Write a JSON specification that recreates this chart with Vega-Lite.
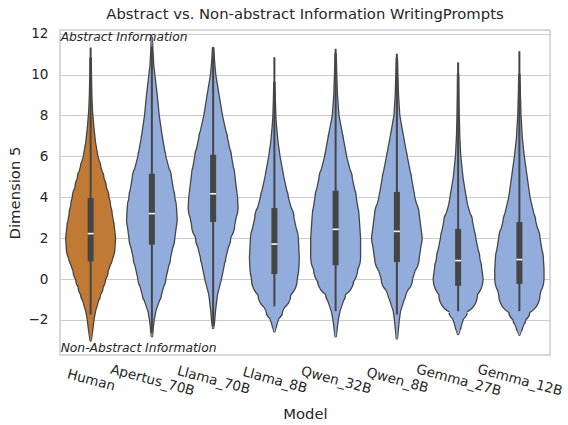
{
  "$schema": "https://vega.github.io/schema/vega-lite/v6.json",
  "width": 490,
  "height": 325,
  "autosize": "none",
  "padding": {"left": 60, "top": 30, "right": 18, "bottom": 70},
  "background": "white",
  "title": {
    "text": "Abstract vs. Non-abstract Information WritingPrompts",
    "font": "DejaVu Sans",
    "fontSize": 14.8,
    "fontWeight": "normal",
    "color": "#262626",
    "offset": 5
  },
  "datasets": {
    "violin": [
      {"Model": "Human", "value": -3.0, "density": 0},
      {"Model": "Human", "value": -2.5, "density": 0.015},
      {"Model": "Human", "value": -2.0, "density": 0.027},
      {"Model": "Human", "value": -1.58, "density": 0.043},
      {"Model": "Human", "value": -1.2, "density": 0.065},
      {"Model": "Human", "value": -0.77, "density": 0.093},
      {"Model": "Human", "value": -0.4, "density": 0.118},
      {"Model": "Human", "value": 0, "density": 0.143},
      {"Model": "Human", "value": 0.43, "density": 0.17},
      {"Model": "Human", "value": 0.86, "density": 0.193},
      {"Model": "Human", "value": 1.2, "density": 0.218},
      {"Model": "Human", "value": 1.52, "density": 0.237},
      {"Model": "Human", "value": 2.0, "density": 0.243},
      {"Model": "Human", "value": 2.5, "density": 0.232},
      {"Model": "Human", "value": 3.15, "density": 0.21},
      {"Model": "Human", "value": 3.6, "density": 0.193},
      {"Model": "Human", "value": 4.0, "density": 0.177},
      {"Model": "Human", "value": 4.5, "density": 0.15},
      {"Model": "Human", "value": 4.94, "density": 0.127},
      {"Model": "Human", "value": 5.5, "density": 0.095},
      {"Model": "Human", "value": 6.0, "density": 0.067},
      {"Model": "Human", "value": 6.7, "density": 0.042},
      {"Model": "Human", "value": 7.39, "density": 0.027},
      {"Model": "Human", "value": 8.2, "density": 0.013},
      {"Model": "Human", "value": 9.0, "density": 0.006},
      {"Model": "Human", "value": 10.0, "density": 0.002},
      {"Model": "Human", "value": 10.8, "density": 0},

      {"Model": "Apertus_70B", "value": -2.8, "density": 0},
      {"Model": "Apertus_70B", "value": -2.3, "density": 0.01},
      {"Model": "Apertus_70B", "value": -2.0, "density": 0.017},
      {"Model": "Apertus_70B", "value": -1.58, "density": 0.033},
      {"Model": "Apertus_70B", "value": -0.77, "density": 0.09},
      {"Model": "Apertus_70B", "value": 0, "density": 0.133},
      {"Model": "Apertus_70B", "value": 1.03, "density": 0.18},
      {"Model": "Apertus_70B", "value": 2.0, "density": 0.223},
      {"Model": "Apertus_70B", "value": 2.9, "density": 0.247},
      {"Model": "Apertus_70B", "value": 3.5, "density": 0.24},
      {"Model": "Apertus_70B", "value": 4.0, "density": 0.223},
      {"Model": "Apertus_70B", "value": 4.94, "density": 0.19},
      {"Model": "Apertus_70B", "value": 6.0, "density": 0.133},
      {"Model": "Apertus_70B", "value": 6.9, "density": 0.1},
      {"Model": "Apertus_70B", "value": 8.0, "density": 0.067},
      {"Model": "Apertus_70B", "value": 9.02, "density": 0.047},
      {"Model": "Apertus_70B", "value": 10.0, "density": 0.023},
      {"Model": "Apertus_70B", "value": 10.5, "density": 0.012},
      {"Model": "Apertus_70B", "value": 11.2, "density": 0.004},
      {"Model": "Apertus_70B", "value": 11.8, "density": 0},

      {"Model": "Llama_70B", "value": -2.4, "density": 0},
      {"Model": "Llama_70B", "value": -2.1, "density": 0.008},
      {"Model": "Llama_70B", "value": -1.58, "density": 0.017},
      {"Model": "Llama_70B", "value": -0.77, "density": 0.037},
      {"Model": "Llama_70B", "value": 0, "density": 0.077},
      {"Model": "Llama_70B", "value": 1.03, "density": 0.12},
      {"Model": "Llama_70B", "value": 2.0, "density": 0.17},
      {"Model": "Llama_70B", "value": 2.66, "density": 0.21},
      {"Model": "Llama_70B", "value": 3.47, "density": 0.243},
      {"Model": "Llama_70B", "value": 4.0, "density": 0.237},
      {"Model": "Llama_70B", "value": 5.1, "density": 0.21},
      {"Model": "Llama_70B", "value": 6.0, "density": 0.177},
      {"Model": "Llama_70B", "value": 6.9, "density": 0.137},
      {"Model": "Llama_70B", "value": 8.0, "density": 0.087},
      {"Model": "Llama_70B", "value": 9.02, "density": 0.053},
      {"Model": "Llama_70B", "value": 10.0, "density": 0.02},
      {"Model": "Llama_70B", "value": 10.65, "density": 0.008},
      {"Model": "Llama_70B", "value": 11.3, "density": 0},

      {"Model": "Llama_8B", "value": -2.56, "density": 0},
      {"Model": "Llama_8B", "value": -2.3, "density": 0.015},
      {"Model": "Llama_8B", "value": -2.0, "density": 0.033},
      {"Model": "Llama_8B", "value": -1.58, "density": 0.077},
      {"Model": "Llama_8B", "value": -0.77, "density": 0.157},
      {"Model": "Llama_8B", "value": 0, "density": 0.223},
      {"Model": "Llama_8B", "value": 0.5, "density": 0.238},
      {"Model": "Llama_8B", "value": 1.03, "density": 0.243},
      {"Model": "Llama_8B", "value": 2.0, "density": 0.233},
      {"Model": "Llama_8B", "value": 2.99, "density": 0.19},
      {"Model": "Llama_8B", "value": 4.0, "density": 0.133},
      {"Model": "Llama_8B", "value": 4.94, "density": 0.09},
      {"Model": "Llama_8B", "value": 6.0, "density": 0.05},
      {"Model": "Llama_8B", "value": 6.7, "density": 0.03},
      {"Model": "Llama_8B", "value": 7.39, "density": 0.017},
      {"Model": "Llama_8B", "value": 7.9, "density": 0.009},
      {"Model": "Llama_8B", "value": 8.8, "density": 0.003},
      {"Model": "Llama_8B", "value": 9.6, "density": 0},

      {"Model": "Qwen_32B", "value": -2.8, "density": 0},
      {"Model": "Qwen_32B", "value": -2.4, "density": 0.01},
      {"Model": "Qwen_32B", "value": -2.0, "density": 0.02},
      {"Model": "Qwen_32B", "value": -1.58, "density": 0.037},
      {"Model": "Qwen_32B", "value": -0.77, "density": 0.093},
      {"Model": "Qwen_32B", "value": 0, "density": 0.177},
      {"Model": "Qwen_32B", "value": 0.5, "density": 0.215},
      {"Model": "Qwen_32B", "value": 1.03, "density": 0.243},
      {"Model": "Qwen_32B", "value": 2.0, "density": 0.243},
      {"Model": "Qwen_32B", "value": 3.15, "density": 0.227},
      {"Model": "Qwen_32B", "value": 4.0, "density": 0.2},
      {"Model": "Qwen_32B", "value": 4.94, "density": 0.16},
      {"Model": "Qwen_32B", "value": 6.0, "density": 0.103},
      {"Model": "Qwen_32B", "value": 6.9, "density": 0.07},
      {"Model": "Qwen_32B", "value": 8.0, "density": 0.027},
      {"Model": "Qwen_32B", "value": 9.0, "density": 0.012},
      {"Model": "Qwen_32B", "value": 10.0, "density": 0.005},
      {"Model": "Qwen_32B", "value": 11.0, "density": 0},

      {"Model": "Qwen_8B", "value": -2.9, "density": 0},
      {"Model": "Qwen_8B", "value": -2.4, "density": 0.01},
      {"Model": "Qwen_8B", "value": -2.0, "density": 0.018},
      {"Model": "Qwen_8B", "value": -1.58, "density": 0.03},
      {"Model": "Qwen_8B", "value": -0.77, "density": 0.083},
      {"Model": "Qwen_8B", "value": 0, "density": 0.15},
      {"Model": "Qwen_8B", "value": 1.03, "density": 0.217},
      {"Model": "Qwen_8B", "value": 2.0, "density": 0.247},
      {"Model": "Qwen_8B", "value": 3.15, "density": 0.217},
      {"Model": "Qwen_8B", "value": 4.0, "density": 0.173},
      {"Model": "Qwen_8B", "value": 4.94, "density": 0.14},
      {"Model": "Qwen_8B", "value": 6.0, "density": 0.097},
      {"Model": "Qwen_8B", "value": 6.9, "density": 0.063},
      {"Model": "Qwen_8B", "value": 8.0, "density": 0.023},
      {"Model": "Qwen_8B", "value": 9.0, "density": 0.01},
      {"Model": "Qwen_8B", "value": 10.0, "density": 0.004},
      {"Model": "Qwen_8B", "value": 10.8, "density": 0},

      {"Model": "Gemma_27B", "value": -2.69, "density": 0},
      {"Model": "Gemma_27B", "value": -2.4, "density": 0.02},
      {"Model": "Gemma_27B", "value": -2.0, "density": 0.043},
      {"Model": "Gemma_27B", "value": -1.58, "density": 0.087},
      {"Model": "Gemma_27B", "value": -0.77, "density": 0.187},
      {"Model": "Gemma_27B", "value": 0, "density": 0.243},
      {"Model": "Gemma_27B", "value": 0.5, "density": 0.23},
      {"Model": "Gemma_27B", "value": 1.03, "density": 0.21},
      {"Model": "Gemma_27B", "value": 2.0, "density": 0.17},
      {"Model": "Gemma_27B", "value": 2.82, "density": 0.137},
      {"Model": "Gemma_27B", "value": 3.64, "density": 0.087},
      {"Model": "Gemma_27B", "value": 4.94, "density": 0.043},
      {"Model": "Gemma_27B", "value": 6.0, "density": 0.02},
      {"Model": "Gemma_27B", "value": 7.0, "density": 0.01},
      {"Model": "Gemma_27B", "value": 8.0, "density": 0.005},
      {"Model": "Gemma_27B", "value": 9.0, "density": 0.002},
      {"Model": "Gemma_27B", "value": 10.0, "density": 0},

      {"Model": "Gemma_12B", "value": -2.72, "density": 0},
      {"Model": "Gemma_12B", "value": -2.4, "density": 0.025},
      {"Model": "Gemma_12B", "value": -2.0, "density": 0.057},
      {"Model": "Gemma_12B", "value": -1.58, "density": 0.1},
      {"Model": "Gemma_12B", "value": -0.77, "density": 0.2},
      {"Model": "Gemma_12B", "value": 0, "density": 0.24},
      {"Model": "Gemma_12B", "value": 0.5, "density": 0.24},
      {"Model": "Gemma_12B", "value": 1.03, "density": 0.233},
      {"Model": "Gemma_12B", "value": 2.0, "density": 0.2},
      {"Model": "Gemma_12B", "value": 2.82, "density": 0.157},
      {"Model": "Gemma_12B", "value": 4.0, "density": 0.1},
      {"Model": "Gemma_12B", "value": 4.94, "density": 0.073},
      {"Model": "Gemma_12B", "value": 6.0, "density": 0.043},
      {"Model": "Gemma_12B", "value": 6.9, "density": 0.023},
      {"Model": "Gemma_12B", "value": 8.0, "density": 0.01},
      {"Model": "Gemma_12B", "value": 9.0, "density": 0.004},
      {"Model": "Gemma_12B", "value": 10.0, "density": 0}
    ],
    "stats": [
      {"Model": "Human", "lo": -1.74, "q1": 0.86, "median": 2.22, "q3": 3.96, "hi": 11.33},
      {"Model": "Apertus_70B", "lo": -2.64, "q1": 1.68, "median": 3.2, "q3": 5.15, "hi": 11.38},
      {"Model": "Llama_70B", "lo": -2.32, "q1": 2.79, "median": 4.17, "q3": 6.08, "hi": 11.33},
      {"Model": "Llama_8B", "lo": -1.34, "q1": 0.24, "median": 1.71, "q3": 3.47, "hi": 10.85},
      {"Model": "Qwen_32B", "lo": -1.58, "q1": 0.67, "median": 2.43, "q3": 4.32, "hi": 11.27},
      {"Model": "Qwen_8B", "lo": -1.74, "q1": 0.83, "median": 2.33, "q3": 4.26, "hi": 11.02},
      {"Model": "Gemma_27B", "lo": -1.58, "q1": -0.33, "median": 0.9, "q3": 2.45, "hi": 10.6},
      {"Model": "Gemma_12B", "lo": -1.58, "q1": -0.24, "median": 0.95, "q3": 2.79, "hi": 11.14}
    ],
    "notes": [
      {"label": "Abstract Information", "value": 11.64},
      {"label": "Non-Abstract Information", "value": -3.56}
    ]
  },
  "encoding": {
    "x": {
      "field": "Model",
      "type": "nominal",
      "scale": {
        "type": "point",
        "padding": 0.5,
        "domain": ["Human", "Apertus_70B", "Llama_70B", "Llama_8B", "Qwen_32B", "Qwen_8B", "Gemma_27B", "Gemma_12B"]
      },
      "axis": {
        "title": "Model",
        "labelAngle": 15,
        "labelAlign": "center",
        "labelBaseline": "middle",
        "labelPadding": 25,
        "titlePadding": 9,
        "grid": false,
        "ticks": false,
        "domain": false
      }
    }
  },
  "layer": [
    {
      "data": {"name": "violin"},
      "mark": {"type": "trail", "color": "#454545"},
      "encoding": {
        "y": {
          "field": "value",
          "type": "quantitative",
          "scale": {"domain": [-3.718, 12.182], "nice": false, "zero": false},
          "axis": {
            "title": "Dimension 5",
            "values": [-2, 0, 2, 4, 6, 8, 10, 12],
            "grid": true,
            "ticks": false,
            "domain": false,
            "labelPadding": 12,
            "titlePadding": 5
          }
        },
        "size": {"field": "density", "type": "quantitative", "scale": {"domain": [0, 0.25], "range": [2.6, 52.6]}, "legend": null},
        "detail": {"field": "Model"},
        "order": {"field": "value", "type": "quantitative"}
      }
    },
    {
      "data": {"name": "violin"},
      "mark": {"type": "trail"},
      "encoding": {
        "y": {"field": "value", "type": "quantitative"},
        "size": {"field": "density", "type": "quantitative", "scale": {"domain": [0, 0.25], "range": [0, 50]}, "legend": null},
        "color": {
          "field": "Model",
          "type": "nominal",
          "scale": {
            "domain": ["Human", "Apertus_70B", "Llama_70B", "Llama_8B", "Qwen_32B", "Qwen_8B", "Gemma_27B", "Gemma_12B"],
            "range": ["#c17a36", "#92addb", "#92addb", "#92addb", "#92addb", "#92addb", "#92addb", "#92addb"]
          },
          "legend": null
        },
        "order": {"field": "value", "type": "quantitative"}
      }
    },
    {
      "data": {"name": "stats"},
      "mark": {"type": "rule", "color": "#454545", "strokeWidth": 2},
      "encoding": {
        "y": {"field": "lo", "type": "quantitative"},
        "y2": {"field": "hi"}
      }
    },
    {
      "data": {"name": "stats"},
      "mark": {"type": "rule", "color": "#454545", "strokeWidth": 6},
      "encoding": {
        "y": {"field": "q1", "type": "quantitative"},
        "y2": {"field": "q3"}
      }
    },
    {
      "data": {"name": "stats"},
      "mark": {"type": "tick", "color": "white", "size": 6, "thickness": 1.6, "opacity": 1},
      "encoding": {
        "y": {"field": "median", "type": "quantitative"}
      }
    },
    {
      "data": {"name": "notes"},
      "mark": {"type": "text", "align": "left", "baseline": "alphabetic", "dx": -30, "fontStyle": "italic", "fontSize": 12.3, "font": "DejaVu Sans", "color": "#262626"},
      "encoding": {
        "x": {"datum": "Human", "type": "nominal"},
        "y": {"field": "value", "type": "quantitative"},
        "text": {"field": "label"}
      }
    }
  ],
  "resolve": {"scale": {"size": "independent"}},
  "config": {
    "font": "DejaVu Sans",
    "view": {"stroke": "#cccccc", "strokeWidth": 1.5},
    "axis": {
      "labelFont": "DejaVu Sans",
      "labelFontSize": 13.6,
      "labelColor": "#262626",
      "titleFont": "DejaVu Sans",
      "titleFontSize": 14.8,
      "titleFontWeight": "normal",
      "titleColor": "#262626",
      "gridColor": "#cccccc",
      "gridWidth": 1
    }
  }
}
